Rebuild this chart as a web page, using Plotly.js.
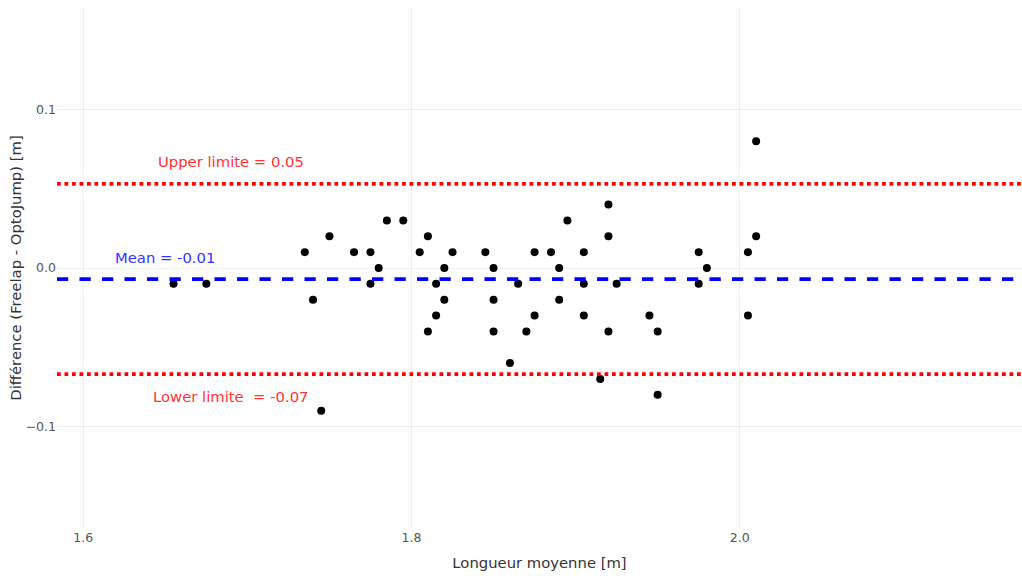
<!DOCTYPE html>
<html>
<head>
<meta charset="utf-8">
<script src="https://cdn.plot.ly/plotly-3.0.1.min.js"></script>
<style>html,body{margin:0;padding:0;background:#fff;}#chart{width:1022px;height:581px;}</style>
</head>
<body>
<div id="chart"></div>
<script>
// Mean length (m) for each athlete/jump
const longueurMoyenne = [
  1.655, 1.675, 1.735, 1.74, 1.745, 1.75, 1.765, 1.775, 1.775, 1.78,
  1.785, 1.795, 1.805, 1.81, 1.81, 1.815, 1.815, 1.82, 1.82, 1.825,
  1.845, 1.85, 1.85, 1.85, 1.86, 1.865, 1.87, 1.875, 1.875, 1.885,
  1.89, 1.89, 1.895, 1.905, 1.905, 1.905, 1.915, 1.92, 1.92, 1.92,
  1.925, 1.945, 1.95, 1.95, 1.975, 1.975, 1.98, 2.005, 2.005, 2.01, 2.01
];
// Difference Freelap - OptoJump (m)
const difference = [
  -0.01, -0.01, 0.01, -0.02, -0.09, 0.02, 0.01, 0.01, -0.01, 0.0,
  0.03, 0.03, 0.01, 0.02, -0.04, -0.01, -0.03, 0.0, -0.02, 0.01,
  0.01, 0.0, -0.02, -0.04, -0.06, -0.01, -0.04, 0.01, -0.03, 0.01,
  0.0, -0.02, 0.03, 0.01, -0.01, -0.03, -0.07, 0.04, 0.02, -0.04,
  -0.01, -0.03, -0.04, -0.08, 0.01, -0.01, 0.0, 0.01, -0.03, 0.08, 0.02
];
// Bland-Altman statistics
const meanDiff = -0.007;
const upperLimit = 0.053;
const lowerLimit = -0.067;
const labels = {
  upper: "Upper limite = 0.05",
  mean: "Mean = -0.01",
  lower: "Lower limite  = -0.07"
};

const FONT = "Verdana, 'DejaVu Sans', sans-serif";

const trace = {
  type: "scatter",
  mode: "markers",
  x: longueurMoyenne,
  y: difference,
  marker: {color: "black", size: 8},
  showlegend: false
};

const layout = {
  width: 1022,
  height: 581,
  margin: {l: 57, r: 0, t: 8, b: 53},
  paper_bgcolor: "white",
  plot_bgcolor: "white",
  font: {family: FONT, color: "#444", size: 12},
  showlegend: false,
  xaxis: {
    range: [1.584, 2.172],
    dtick: 0.2,
    tick0: 1.6,
    tickformat: ".1f",
    showgrid: true,
    gridcolor: "#efefef",
    gridwidth: 1,
    zeroline: false,
    showline: false,
    ticks: "",
    automargin: true,
    tickfont: {family: FONT, size: 12.5, color: "#555"},
    title: {text: "Longueur moyenne [m]", font: {family: FONT, size: 14.8, color: "#333"}, standoff: 14}
  },
  yaxis: {
    range: [-0.164, 0.164],
    dtick: 0.1,
    tick0: 0,
    tickformat: ".1f",
    showgrid: true,
    gridcolor: "#efefef",
    gridwidth: 1,
    zeroline: true,
    zerolinecolor: "#efefef",
    zerolinewidth: 1,
    showline: false,
    ticks: "",
    automargin: true,
    tickfont: {family: FONT, size: 12.5, color: "#555"},
    title: {text: "Différence (Freelap - OptoJump) [m]", font: {family: FONT, size: 14.8, color: "#333"}, standoff: 0}
  },
  shapes: [
    {type: "line", xref: "paper", x0: 0, x1: 1, yref: "y", y0: upperLimit, y1: upperLimit,
     line: {color: "red", width: 3.75, dash: "dot"}},
    {type: "line", xref: "paper", x0: 0, x1: 1, yref: "y", y0: meanDiff, y1: meanDiff,
     line: {color: "blue", width: 3.75, dash: "dash"}},
    {type: "line", xref: "paper", x0: 0, x1: 1, yref: "y", y0: lowerLimit, y1: lowerLimit,
     line: {color: "red", width: 3.75, dash: "dot"}}
  ],
  annotations: [
    {x: 1.69, y: upperLimit + 0.014, xref: "x", yref: "y", text: labels.upper, showarrow: false,
     font: {family: FONT, size: 14.8, color: "#ff3333"}},
    {x: 1.65, y: meanDiff + 0.0135, xref: "x", yref: "y", text: labels.mean, showarrow: false,
     font: {family: FONT, size: 14.8, color: "#3333ff"}},
    {x: 1.69, y: lowerLimit - 0.0143, xref: "x", yref: "y", text: labels.lower, showarrow: false,
     font: {family: FONT, size: 14.8, color: "#ff3333"}}
  ]
};

Plotly.newPlot("chart", [trace], layout, {displayModeBar: false, staticPlot: true});
</script>
</body>
</html>
